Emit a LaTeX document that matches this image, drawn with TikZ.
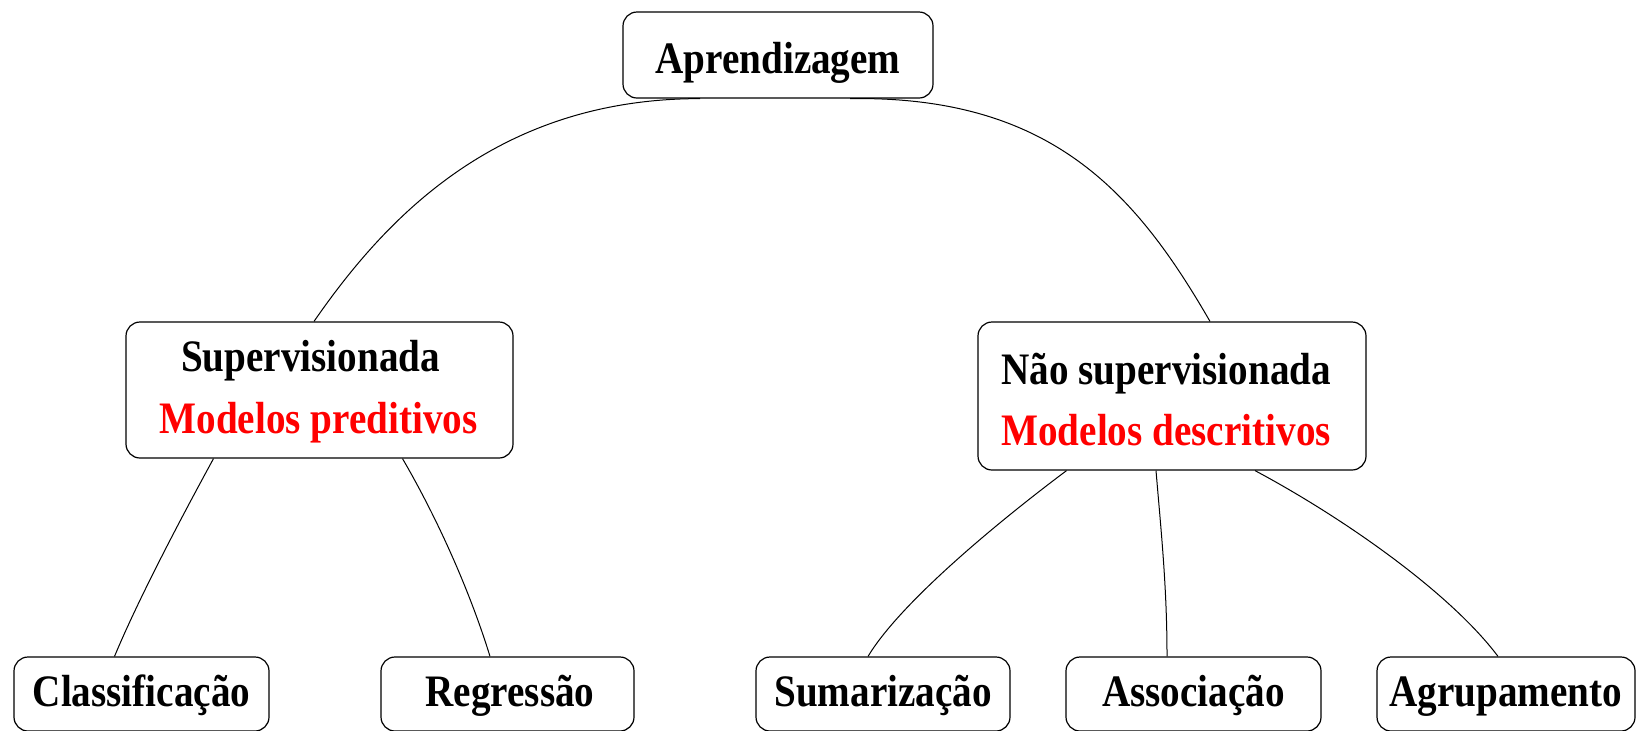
\documentclass[tikz,border=0pt]{standalone}
\usepackage{fontspec}
\setmainfont{Liberation Serif}[FakeStretch=0.87]
\usetikzlibrary{calc}
\begin{document}
\begin{tikzpicture}[x=0.5pt,y=-0.5pt,
  txt/.style={font=\fontsize{22.5pt}{27pt}\selectfont\bfseries},
  box/.style={draw, rounded corners=7pt, line width=0.6pt, inner sep=0pt, txt},
  topbox/.style={box, text height=22pt, text depth=4pt},
  leaf/.style={box, minimum height=37pt, text height=16pt, text depth=4pt},
  lbl/.style={inner sep=0pt, txt},
  redlbl/.style={lbl, text=red},
  link/.style={line width=0.5pt}
]
\useasboundingbox (0,0) rectangle (1636,730);

% boxes
\node[topbox, minimum width=155pt, minimum height=43pt] (aprend) at (778,55) {Aprendizagem};
\node[box, minimum width=193.5pt, minimum height=68pt] (sup) at (319.5,390) {};
\node[box, minimum width=194pt, minimum height=74pt] (nsup) at (1172,396) {};

\node[lbl, anchor=base] (supA) at (310.5,371.7) {Supervisionada};
\node[redlbl, anchor=base] (supB) at (318.5,433) {Modelos preditivos};
\node[lbl, anchor=base west] (nsupA) at (1001,384) {Não supervisionada};
\node[redlbl, anchor=base west] (nsupB) at (1001,445.7) {Modelos descritivos};

\node[leaf, minimum width=127.5pt] (class) at (141.5,694) {Classificação\hspace{6.5pt}};
\node[leaf, minimum width=126.5pt] (regr) at (507.5,694) {\hspace{2.5pt}Regressão};
\node[leaf, minimum width=127pt] (sum) at (883,694) {Sumarização\hspace{5.5pt}};
\node[leaf, minimum width=127.5pt] (assoc) at (1193.5,694) {Associação};
\node[leaf, minimum width=129pt] (agrup) at (1506,694) {Agrupamento};

% connectors
\draw[link] ($(aprend.south)+(-78,0)$) .. controls +(-200,0) and +(74,-107) .. ($(sup.north)+(-5.5,0)$);
\draw[link] ($(aprend.south)+(72,0)$) .. controls +(200,-3) and +(-75,-130) .. ($(nsup.north)+(38,0)$);

\draw[link] ($(sup.south)+(-106,0)$) .. controls +(-30,55) and +(25,-60) .. ($(class.north)+(-27,0)$);
\draw[link] ($(sup.south)+(83,0)$) .. controls +(35,60) and +(-20,-65) .. ($(regr.north)+(-17.5,0)$);

\draw[link] ($(nsup.south)+(-105.5,0)$) .. controls +(-80,60) and +(30,-50) .. ($(sum.north)+(-15,0)$);
\draw[link] ($(nsup.south)+(-16,0)$) .. controls +(5,60) and +(0,-70) .. ($(assoc.north)+(-26.5,0)$);
\draw[link] ($(nsup.south)+(83,0)$) .. controls +(88,47) and +(-48,-64) .. ($(agrup.north)+(-8,0)$);
\end{tikzpicture}
\end{document}
